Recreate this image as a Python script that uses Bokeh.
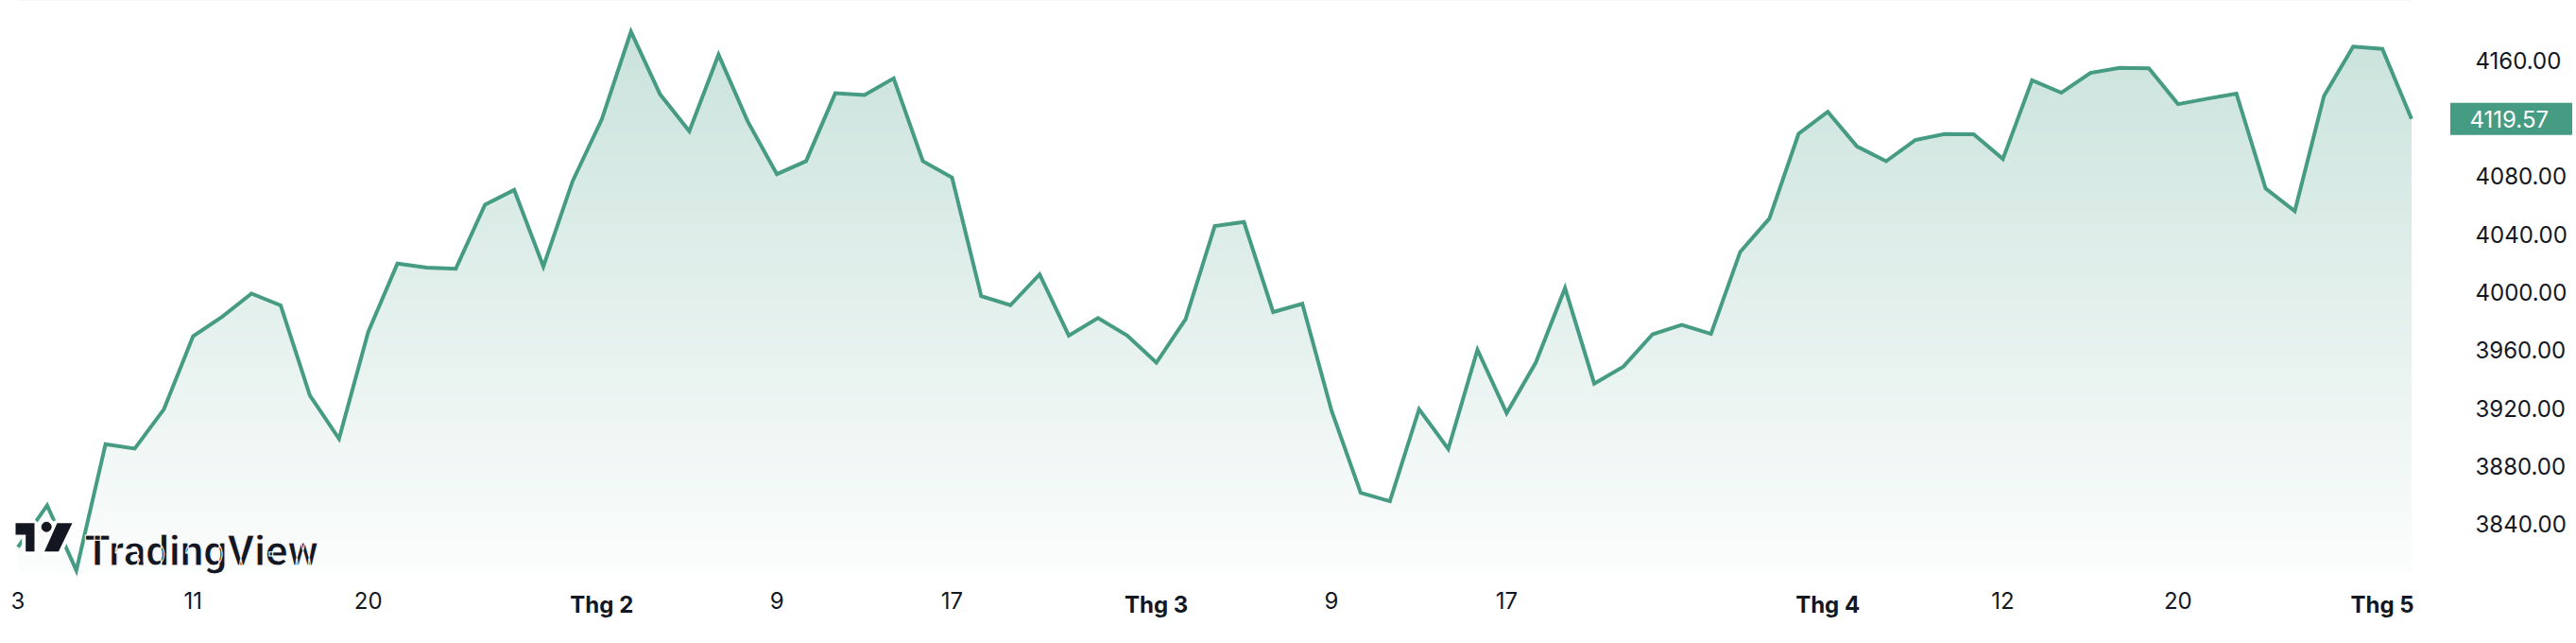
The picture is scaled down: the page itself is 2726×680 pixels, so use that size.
import numpy as np
from bokeh.plotting import figure
from bokeh.models import (Range1d, FixedTicker, LinearAxis, Label, PolyAnnotation)
from bokeh.core.properties import value
from bokeh.embed import file_html
from bokeh.resources import INLINE

# ---------------- data (daily closes, Jan 3 -> May 2) ----------------
dates = [
    "01-03", "01-04", "01-05", "01-06", "01-09", "01-10", "01-11", "01-12", "01-13", "01-17",
    "01-18", "01-19", "01-20", "01-23", "01-24", "01-25", "01-26", "01-27", "01-30", "01-31",
    "02-01", "02-02", "02-03", "02-06", "02-07", "02-08", "02-09", "02-10", "02-13", "02-14",
    "02-15", "02-16", "02-17", "02-21", "02-22", "02-23", "02-24", "02-27", "02-28",
    "03-01", "03-02", "03-03", "03-06", "03-07", "03-08", "03-09", "03-10", "03-13", "03-14",
    "03-15", "03-16", "03-17", "03-20", "03-21", "03-22", "03-23", "03-24", "03-27", "03-28",
    "03-29", "03-30", "03-31",
    "04-03", "04-04", "04-05", "04-06", "04-10", "04-11", "04-12", "04-13", "04-14", "04-17",
    "04-18", "04-19", "04-20", "04-21", "04-24", "04-25", "04-26", "04-27", "04-28",
    "05-01", "05-02",
]
closes = [
    3824.14, 3852.97, 3808.10, 3895.08, 3892.09, 3919.25, 3969.61, 3983.17, 3999.09, 3990.97,
    3928.86, 3898.85, 3972.61, 4019.81, 4016.95, 4016.22, 4060.43, 4070.56, 4017.77, 4076.60,
    4119.21, 4179.76, 4136.48, 4111.08, 4164.00, 4117.86, 4081.50, 4090.46, 4137.29, 4136.13,
    4147.60, 4090.41, 4079.09, 3997.34, 3991.05, 4012.32, 3970.04, 3982.24, 3970.15,
    3951.39, 3981.35, 4045.64, 4048.42, 3986.37, 3992.01, 3918.32, 3861.59, 3855.76, 3919.29,
    3891.93, 3960.28, 3916.64, 3951.57, 4002.87, 3936.97, 3948.72, 3970.99, 3977.53, 3971.27,
    4027.81, 4050.83, 4109.31,
    4124.51, 4100.60, 4090.38, 4105.02, 4109.11, 4108.94, 4091.95, 4146.22, 4137.64, 4151.32,
    4154.87, 4154.52, 4129.79, 4133.52, 4137.04, 4071.63, 4055.99, 4135.35, 4169.48,
    4167.87, 4119.57,
]

day_tick_dates = ["01-03", "01-11", "01-20", "02-09", "02-17", "03-09", "03-17", "04-12", "04-20"]
day_tick_labels = ["3", "11", "20", "9", "17", "9", "17", "12", "20"]
month_tick_dates = ["02-01", "03-01", "04-03", "05-01"]
month_tick_labels = ["Thg 2", "Thg 3", "Thg 4", "Thg 5"]

y_ticks = [3840, 3880, 3920, 3960, 4000, 4040, 4080, 4160]
y_tick_labels = ["3840.00", "3880.00", "3920.00", "3960.00", "4000.00", "4040.00", "4080.00", "4160.00"]

last_label = "4119.57"

# ---------------- styling / layout ----------------
LINE = "#469b83"
TEXT = "#131722"
FONT = "Inter"
W, H = 2726, 680
S_X = 30.89          # px per trading day
S_Y = 1.5328         # px per index point
XS = -18.5 / S_X
XE = XS + W / S_X
YE = 4160 + 63.3 / S_Y
YS = YE - H / S_Y


def px_x(rx):   # canvas pixel -> data x
    return XS + rx / S_X


def px_y(ry):   # canvas pixel -> data y
    return YE - ry / S_Y


Y_BOTTOM = px_y(605)      # bottom of the price pane
X_PANE_R = px_x(2570)     # right edge of the price pane

idx = list(range(len(dates)))
pos = {d: i for i, d in enumerate(dates)}

p = figure(width=W, height=H, output_backend="svg", toolbar_location=None,
           x_range=Range1d(XS, XE), y_range=Range1d(YS, YE),
           x_axis_location=None, y_axis_location=None, min_border=0)
p.outline_line_color = None
p.grid.visible = False
p.background_fill_color = "white"
p.border_fill_color = "white"

# gradient fill (bands) under the line, masked above the line with white
nb = 160
edges = np.linspace(Y_BOTTOM, YE, nb + 1)
hb = edges[1] - edges[0]
a_bot, a_top = 0.02, 0.30
base = (70, 155, 131)
cols = []
for j in range(nb):
    t = (edges[j] + hb / 2 - Y_BOTTOM) / (YE - Y_BOTTOM)
    a = a_bot + (a_top - a_bot) * t
    c = tuple(int(round(255 - a * (255 - b))) for b in base)
    cols.append("#%02x%02x%02x" % c)
tops = np.minimum(edges[:-1] + hb * 1.6, YE)
p.quad(left=idx[0], right=idx[-1], bottom=edges[:-1], top=tops,
       fill_color=cols, line_color=None)
p.varea(x=idx, y1=closes, y2=YE, fill_color="white")

p.line(idx, closes, line_color=LINE, line_width=4, line_join="miter")

# ---------------- axes (fixed inside the canvas) ----------------
yax = LinearAxis(fixed_location=X_PANE_R, ticker=FixedTicker(ticks=y_ticks),
                 major_label_overrides={t: l for t, l in zip(y_ticks, y_tick_labels)},
                 axis_line_color=None, major_tick_line_color=None, minor_tick_line_color=None,
                 major_label_standoff=43, major_label_text_font=FONT,
                 major_label_text_font_size="24px", major_label_text_color=TEXT)
p.add_layout(yax, "right")

day_ticks = [pos[d] for d in day_tick_dates]
xax = LinearAxis(fixed_location=Y_BOTTOM, ticker=FixedTicker(ticks=day_ticks),
                 major_label_overrides={t: l for t, l in zip(day_ticks, day_tick_labels)},
                 axis_line_color=None, major_tick_line_color=None, minor_tick_line_color=None,
                 major_label_standoff=14, major_label_text_font=FONT,
                 major_label_text_font_size="24px", major_label_text_color=TEXT)
p.add_layout(xax, "below")

month_ticks = [pos[d] for d in month_tick_dates]
max_ = LinearAxis(fixed_location=Y_BOTTOM, ticker=FixedTicker(ticks=month_ticks),
                  major_label_overrides={t: l for t, l in zip(month_ticks, month_tick_labels)},
                  axis_line_color=None, major_tick_line_color=None, minor_tick_line_color=None,
                  major_label_standoff=13, major_label_text_font=FONT,
                  major_label_text_font_size="24px", major_label_text_font_style="bold",
                  major_label_text_color=TEXT)
p.add_layout(max_, "below")

# ---------------- last-price label ----------------
p.rect(x=[px_x(2657)], y=[closes[-1]], width=129, height=34, width_units="screen",
       height_units="screen", fill_color=LINE, line_color=None)
p.text(x=[px_x(2613)], y=[closes[-1]], text=[last_label], text_align="left",
       text_baseline="middle", text_font=value(FONT), text_font_size="24px",
       text_color="white")

# ---------------- TradingView logo (decoration) ----------------
T_shape = [(16, 552.7), (36, 552.7), (36, 582.7), (26.7, 582.7), (26.7, 565), (16, 565)]
slash = [(46.5, 582.7), (61.5, 582.7), (76, 552.7), (60, 552.7)]
for shp in (T_shape, slash):
    p.add_layout(PolyAnnotation(xs=[px_x(a) for a, b in shp], ys=[px_y(b) for a, b in shp],
                                fill_color="white", fill_alpha=1,
                                line_color="white", line_width=8, line_alpha=1))
p.scatter([px_x(48.7)], [px_y(556.7)], size=18, marker="circle", color="white")
for shp in (T_shape, slash):
    p.add_layout(PolyAnnotation(xs=[px_x(a) for a, b in shp], ys=[px_y(b) for a, b in shp],
                                fill_color=TEXT, fill_alpha=1, line_color=None))
p.scatter([px_x(48.7)], [px_y(556.7)], size=10, marker="circle", color=TEXT, level="overlay")
p.add_layout(Label(x=px_x(89), y=px_y(582.7), text="TradingView", text_align="left",
                   text_baseline="alphabetic", text_font="Roboto", text_font_size="44px",
                   text_font_style="bold", text_color=TEXT, text_outline_color="white"))

open("out.html", "w").write(file_html(p, INLINE))
